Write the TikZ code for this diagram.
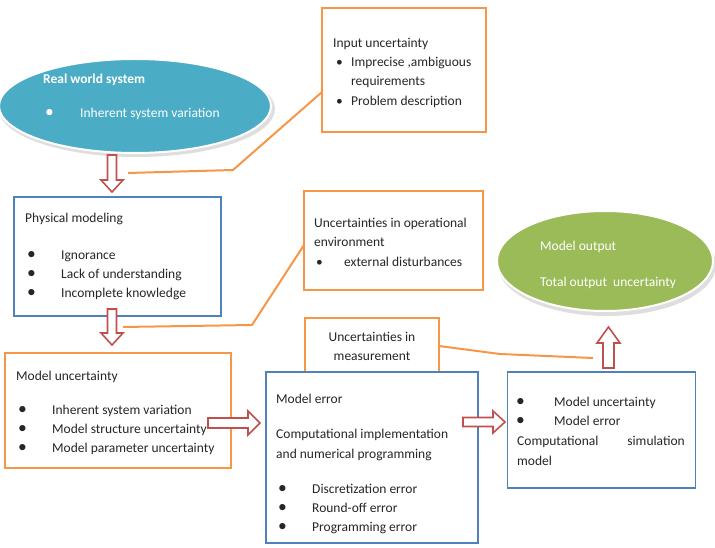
\documentclass[tikz,border=0pt]{standalone}
\usepackage{fontspec}
\setmainfont{Carlito}
\usetikzlibrary{shapes.geometric}
\definecolor{obox}{HTML}{F79646}
\definecolor{bbox}{HTML}{4F81BD}
\definecolor{rarr}{HTML}{C0504D}
\definecolor{eblue}{HTML}{4BACC6}
\definecolor{egreen}{HTML}{9BBB59}
\newcommand\txtl[4]{\node[txt] (#1) at (#2,#3) {#4};}
\newcommand\bul{\textbullet}
\newcommand\bbul{\scalebox{1.3}{\textbullet}}
\tikzset{
  txt/.style={anchor=base west, inner sep=0pt, font=\fontsize{13.5}{16}\selectfont, text=black!85},
  wtxt/.style={txt, text=white},
  obx/.style={draw=obox, line width=1.8pt, fill=white, inner sep=0pt},
  bbx/.style={draw=bbox, line width=1.8pt, fill=white, inner sep=0pt},
  ell/.style={draw=white, line width=2pt, shape=ellipse, inner sep=0pt},
  oline/.style={draw=obox, line width=2pt},
  harrow/.style={draw=rarr, line width=1.6pt, fill=white, line join=miter},
}
\begin{document}
\begin{tikzpicture}[x=1pt,y=-1pt]
\useasboundingbox (0,0) rectangle (715,548);

% ellipses
\fill[black!13] (137,109) ellipse [x radius=138, y radius=48];
\node[ell, fill=eblue, minimum width=272pt, minimum height=94pt] (real) at (135,106) {};
\fill[black!13] (607,265) ellipse [x radius=109, y radius=51];
\node[ell, fill=egreen, minimum width=216pt, minimum height=100pt] (out) at (605,261) {};

% boxes
\node[obx, minimum width=164pt, minimum height=124pt] (inp) at (404,70) {};
\node[bbx, minimum width=207pt, minimum height=119pt] (phys) at (117.5,256.5) {};
\node[obx, minimum width=179pt, minimum height=99pt] (oper) at (393.5,240.5) {};
\node[obx, minimum width=134pt, minimum height=55pt] (meas) at (372,345.5) {};
\node[obx, minimum width=226pt, minimum height=115pt] (munc) at (118,410.5) {};
\node[bbx, minimum width=212pt, minimum height=171pt] (merr) at (372,457.5) {};
\node[bbx, minimum width=188pt, minimum height=116pt] (csim) at (601.5,430) {};

% connector coordinates
\coordinate (c1a) at (322,92);
\coordinate (c1b) at (233,170);
\coordinate (c1c) at (128,173);
\coordinate (c2a) at (123,327);
\coordinate (c2b) at (252,325);
\coordinate (c2c) at (304,245);
\coordinate (c3a) at (439,346);
\coordinate (c3b) at (500,354);
\coordinate (c3c) at (593,358);
\draw[oline] (c1a) -- (c1b) -- (c1c);
\draw[oline] (c2a) -- (c2b) -- (c2c);
\draw[oline] (c3a) -- (c3b) -- (c3c);

% texts: real world
\node[wtxt, font=\fontsize{13.5}{16}\selectfont\bfseries] (r1) at (43,84) {Real world system};
\txtl{r2b}{45}{118}{\color{white}\bbul}
\txtl{r2}{80}{118}{\color{white}Inherent system variation}

% input uncertainty
\txtl{i1}{333}{48}{Input uncertainty}
\txtl{i2b}{336}{67}{\bul}
\txtl{i2}{351}{67}{Imprecise ,ambiguous}
\txtl{i3}{351}{86}{requirements}
\txtl{i4b}{336}{106}{\bul}
\txtl{i4}{351}{106}{Problem description}

% physical modeling
\txtl{p1}{25}{223}{Physical modeling}
\txtl{p2b}{27}{259}{\bbul}
\txtl{p2}{61}{259}{Ignorance}
\txtl{p3b}{27}{279}{\bbul}
\txtl{p3}{61}{279}{Lack of understanding}
\txtl{p4b}{27}{298}{\bbul}
\txtl{p4}{61}{298}{Incomplete knowledge}

% operational
\txtl{o1}{314}{228}{Uncertainties in operational}
\txtl{o2}{314}{247}{environment}
\txtl{o3b}{316}{266}{\bul}
\txtl{o3}{344}{266}{external disturbances}

% model output
\txtl{m1}{540}{251}{\color{white}Model output}
\txtl{m2}{540}{286}{\color{white}Total output\ \ uncertainty}

% measurement
\node[txt, anchor=base] (u1) at (372,341) {Uncertainties in};
\node[txt, anchor=base] (u2) at (372,360) {measurement};

% model uncertainty
\txtl{k1}{16}{380}{Model uncertainty}
\txtl{k2b}{18}{414}{\bbul}
\txtl{k2}{52}{414}{Inherent system variation}
\txtl{k3b}{18}{433}{\bbul}
\txtl{k3}{52}{433}{Model structure uncertainty}
\txtl{k4b}{18}{452}{\bbul}
\txtl{k4}{52}{452}{Model parameter uncertainty}

% model error
\txtl{e1}{276}{403}{Model error}
\txtl{e2}{276}{438}{Computational implementation}
\txtl{e3}{276}{458}{and numerical programming}
\txtl{e4b}{278}{493}{\bbul}
\txtl{e4}{312}{493}{Discretization error}
\txtl{e5b}{278}{512}{\bbul}
\txtl{e5}{312}{512}{Round-off error}
\txtl{e6b}{278}{531}{\bbul}
\txtl{e6}{312}{531}{Programming error}

% computational simulation
\txtl{s1b}{516}{406}{\bbul}
\txtl{s1}{554}{406}{Model uncertainty}
\txtl{s2b}{516}{425}{\bbul}
\txtl{s2}{554}{425}{Model error}
\txtl{s3}{517}{445}{Computational}
\node[txt, anchor=base east] (s3r) at (685,445) {simulation};
\txtl{s4}{517}{465}{model}

% hollow block arrows (on top)
\draw[harrow] (107.5,155) -- (116.5,155) -- (116.5,180) -- (123,180) -- (112,192) -- (101,180) -- (107.5,180) -- cycle;
\draw[harrow] (107.5,309) -- (116.5,309) -- (116.5,333) -- (123,333) -- (112,345) -- (101,333) -- (107.5,333) -- cycle;
\draw[harrow] (208,418) -- (248,418) -- (248,411) -- (260,423) -- (248,435) -- (248,428) -- (208,428) -- cycle;
\draw[harrow] (463,417.5) -- (493,417.5) -- (493,411) -- (505,422) -- (493,433) -- (493,426.5) -- (463,426.5) -- cycle;
\draw[harrow] (603,368) -- (614,368) -- (614,343) -- (620,343) -- (608.5,327) -- (597,343) -- (603,343) -- cycle;
\end{tikzpicture}
\end{document}
